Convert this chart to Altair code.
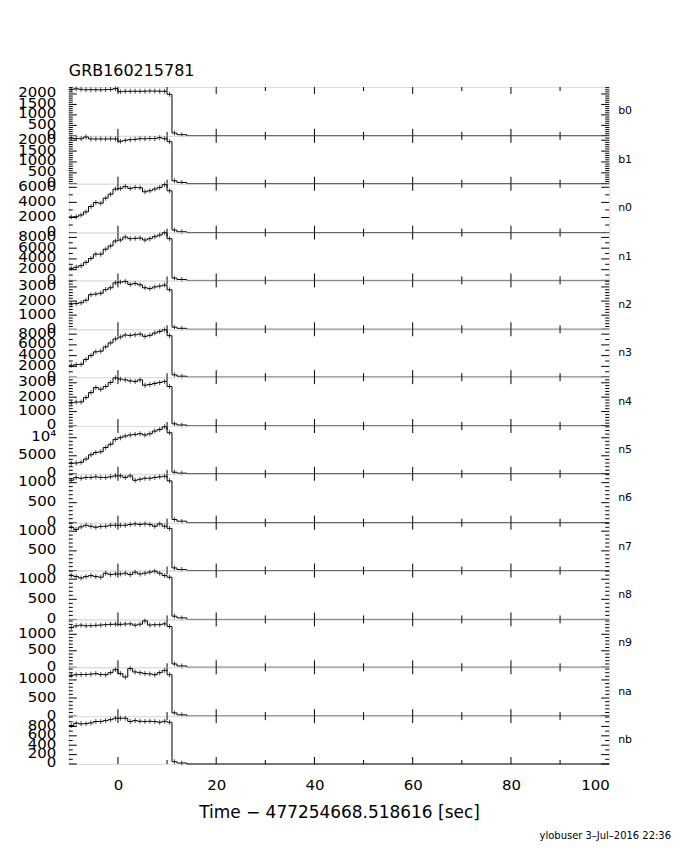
import altair as alt
import pandas as pd

FONT = "DejaVu Sans"

detectors = ["b0", "b1", "n0", "n1", "n2", "n3", "n4", "n5", "n6", "n7", "n8", "n9", "na", "nb"]

# 1-s bins from -10 to 11 s, then 11-12 s and 12-14 s
bin_start = [-10, -9, -8, -7, -6, -5, -4, -3, -2, -1, 0, 1, 2, 3, 4, 5, 6, 7, 8, 9, 10, 11, 12]
bin_end = [-9, -8, -7, -6, -5, -4, -3, -2, -1, 0, 1, 2, 3, 4, 5, 6, 7, 8, 9, 10, 11, 12, 14]

b0 = [2215, 2245, 2220, 2200, 2205, 2200, 2195, 2205, 2215, 2250, 2110, 2125, 2125, 2130, 2125, 2130, 2140, 2135, 2130, 2125, 1980, 136, 56]
b1 = [2100, 2075, 2070, 2147, 2060, 2056, 2060, 2056, 2065, 2060, 1950, 1996, 2026, 2040, 2071, 2065, 2080, 2075, 2117, 2071, 1935, 136, 60]
n0 = [2070, 2100, 2330, 2740, 3450, 3980, 3890, 4560, 5090, 5760, 5850, 6110, 5850, 5980, 5940, 5400, 5540, 5760, 5980, 6340, 5540, 330, 110]
n1 = [2260, 2450, 2750, 3360, 4100, 4890, 4890, 5810, 6420, 7340, 7520, 8070, 7770, 7830, 7890, 7520, 7770, 8140, 8440, 8870, 7770, 430, 180]
n2 = [1800, 1820, 1880, 2060, 2450, 2500, 2550, 2810, 2940, 3290, 3340, 3390, 3180, 3250, 3150, 2940, 2880, 3000, 3060, 3130, 2800, 150, 70]
n3 = [2200, 2320, 2390, 3300, 4040, 4710, 4830, 5630, 6360, 7100, 7460, 7830, 7770, 7890, 8010, 7590, 7770, 8200, 8500, 8810, 7710, 430, 180]
n4 = [1620, 1660, 1670, 1970, 2320, 2670, 2550, 2740, 3020, 3340, 3250, 3200, 3130, 3090, 3200, 2830, 2880, 2950, 3020, 3090, 2740, 150, 70]
n5 = [2910, 3000, 3190, 4100, 5280, 5920, 6100, 7290, 8200, 9560, 10020, 10470, 10750, 10930, 11110, 10750, 11110, 11840, 12290, 13020, 11380, 450, 200]
n6 = [1060, 1130, 1110, 1130, 1130, 1145, 1130, 1130, 1145, 1170, 1170, 1130, 1170, 1060, 1085, 1110, 1110, 1130, 1145, 1160, 1045, 80, 38]
n7 = [1100, 1045, 1110, 1150, 1125, 1100, 1120, 1125, 1150, 1150, 1150, 1150, 1170, 1185, 1170, 1185, 1170, 1125, 1185, 1125, 1070, 67, 25]
n8 = [1090, 1065, 1030, 1065, 1090, 1065, 1050, 1150, 1115, 1130, 1130, 1150, 1115, 1175, 1130, 1150, 1175, 1200, 1150, 1090, 1050, 80, 38]
n9 = [1205, 1255, 1275, 1255, 1260, 1270, 1280, 1290, 1300, 1305, 1300, 1310, 1315, 1275, 1305, 1405, 1280, 1290, 1290, 1315, 1235, 100, 40]
na = [1130, 1145, 1150, 1150, 1160, 1175, 1150, 1145, 1200, 1285, 1175, 1080, 1315, 1220, 1200, 1175, 1165, 1145, 1200, 1265, 1145, 90, 35]
nb = [820, 870, 855, 860, 875, 905, 905, 925, 945, 975, 975, 975, 905, 925, 910, 905, 910, 905, 890, 910, 890, 49, 21]

series = {"b0": b0, "b1": b1, "n0": n0, "n1": n1, "n2": n2, "n3": n3, "n4": n4,
          "n5": n5, "n6": n6, "n7": n7, "n8": n8, "n9": n9, "na": na, "nb": nb}

y_max = [2330, 2200, 6470, 8900, 3460, 8900, 3390, 13250, 1220, 1215, 1215, 1450, 1350, 1020]
y_labels = [
    [0, 500, 1000, 1500, 2000],
    [0, 500, 1000, 1500, 2000],
    [0, 2000, 4000, 6000],
    [0, 2000, 4000, 6000, 8000],
    [0, 1000, 2000, 3000],
    [0, 2000, 4000, 6000, 8000],
    [0, 1000, 2000, 3000],
    [0, 5000, 10000],
    [0, 500, 1000],
    [0, 500, 1000],
    [0, 500, 1000],
    [0, 500, 1000],
    [0, 500, 1000],
    [0, 200, 400, 600, 800],
]
y_minor_step = [100, 100, 1000, 1000, 200, 1000, 200, 1000, 100, 100, 100, 100, 100, 100]

x_major = [0, 20, 40, 60, 80]
x_minor = [10, 30, 50, 70, 90]
x_labels = [0, 20, 40, 60, 80, 100]

title_text = "GRB160215781"
x_title = "Time \u2212 477254668.518616 [sec]"
footer_text = "ylobuser   3\u2013Jul\u20132016 22:36"

W = 542
heights = [49, 48, 49, 48, 49, 48, 49, 48, 49, 48, 49, 48, 49, 48]


def panel(i):
    name = detectors[i]
    vals = series[name]
    h = heights[i]
    ymax = y_max[i]
    last = i == len(detectors) - 1

    line_df = pd.DataFrame({"x": bin_start + [bin_end[-1], 100], "v": vals + [0, 0]})
    err_df = pd.DataFrame({"x": [(a + b) / 2 for a, b in zip(bin_start, bin_end)], "v": vals})
    majors = y_labels[i]
    minors = [v for v in range(0, ymax, y_minor_step[i]) if v not in majors]

    xscale = alt.Scale(domain=[-10, 100], nice=False, zero=False)
    yscale = alt.Scale(domain=[0, ymax], nice=False, zero=True)
    if last:
        xaxis = alt.Axis(values=x_labels, ticks=False, domain=False, grid=False,
                         title=x_title, labelFont=FONT, labelFontSize=15, labelColor="black",
                         labelPadding=14, labelFlush=True, labelOverlap=False,
                         titleFont=FONT, titleFontSize=17, titleFontWeight="normal",
                         titleColor="black", titlePadding=12)
    else:
        xaxis = None
    yaxis = alt.Axis(values=majors, ticks=False, domain=False, grid=False, title=None,
                     labelFont=FONT, labelFontSize=15, labelColor="black", labelPadding=13,
                     labelOverlap=False, labelFlush=False, labelOffset=-2, format="d",
                     labelExpr="datum.value == 10000 ? '10\u2074' : datum.label",
                     minExtent=52, maxExtent=52)

    def X():
        return alt.X("x:Q", scale=xscale, axis=xaxis)

    def Y():
        return alt.Y("v:Q", scale=yscale, axis=yaxis)

    layers = []
    layers.append(alt.Chart(line_df).mark_line(interpolate="step-after", color="black",
                                                strokeWidth=1).encode(x=X(), y=Y()))
    layers.append(alt.Chart(err_df).mark_tick(orient="vertical", color="black", size=5,
                                               thickness=1).encode(x=X(), y=Y()))
    maj_df = pd.DataFrame({"v": majors})
    min_df = pd.DataFrame({"v": minors})
    for df, ln in ((maj_df, 8), (min_df, 4)):
        layers.append(alt.Chart(df).mark_rule(color="black", strokeWidth=1).encode(
            y=Y(), x=alt.value(0), x2=alt.value(ln)))
        layers.append(alt.Chart(df).mark_rule(color="black", strokeWidth=1).encode(
            y=Y(), x=alt.value(W), x2=alt.value(W - ln)))
    xmaj_df = pd.DataFrame({"x": x_major})
    xmin_df = pd.DataFrame({"x": x_minor})
    for df, ln in ((xmaj_df, 7), (xmin_df, 4)):
        layers.append(alt.Chart(df).mark_rule(color="black", strokeWidth=1).encode(
            x=X(), y=alt.value(h), y2=alt.value(h - ln)))
        layers.append(alt.Chart(df).mark_rule(color="black", strokeWidth=1).encode(
            x=X(), y=alt.value(0), y2=alt.value(ln)))
    layers.append(alt.Chart(pd.DataFrame({"t": [name]})).mark_text(
        align="left", baseline="middle", font=FONT, fontSize=11, color="black").encode(
        text="t:N", x=alt.value(W + 9), y=alt.value(h / 2)))
    if i == 0:
        layers.append(alt.Chart(pd.DataFrame({"t": [title_text]})).mark_text(
            align="left", baseline="middle", font=FONT, fontSize=16, color="black").encode(
            text="t:N", x=alt.value(0), y=alt.value(-16)))
    if last:
        layers.append(alt.Chart(pd.DataFrame({"t": [footer_text]})).mark_text(
            align="right", baseline="middle", font=FONT, fontSize=10, color="black").encode(
            text="t:N", x=alt.value(W + 62), y=alt.value(h + 72)))
    return alt.layer(*layers).properties(width=W, height=h)


panels = [panel(i) for i in range(len(detectors))]

chart = alt.vconcat(*panels, spacing=0, bounds="flush").resolve_scale(
    x="independent", y="independent"
).properties(
    padding={"left": 8, "top": 53, "right": 0, "bottom": 0}
).configure_view(stroke="black", strokeWidth=1, strokeOpacity=1).configure(background="white")

chart.save("out.html", embed_options={"renderer": "svg", "actions": False})
